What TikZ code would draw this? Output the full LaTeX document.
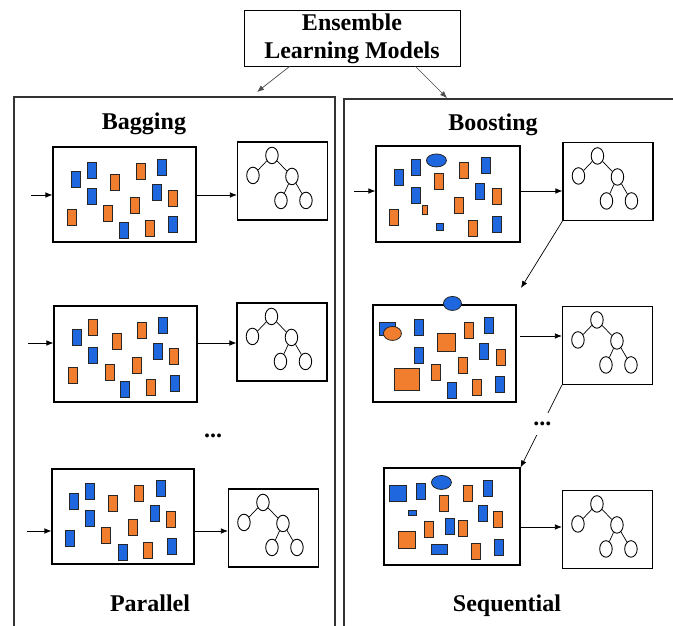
\documentclass[tikz,border=0pt]{standalone}
\usepackage{fontspec}
\setmainfont{Liberation Serif}
\usetikzlibrary{arrows.meta,shapes.geometric,calc}
\definecolor{pcblue}{RGB}{31,103,222}
\definecolor{pcorange}{RGB}{240,126,46}
\tikzset{
  panel/.style={line width=1.1pt, draw=black!80},
  box/.style={draw, line width=1.1pt, inner sep=0pt},
  treebox/.style={box, minimum width=90pt, minimum height=78pt},
  leaf/.style={ellipse, draw, line width=0.9pt, minimum width=12.5pt, minimum height=16.5pt, inner sep=0pt},
  flow/.style={-{Latex[length=7pt,width=5.5pt]}, line width=0.7pt},
  lbl/.style={font=\fontsize{24}{28}\selectfont\bfseries},
  bpc/.style={draw=black!85, line width=0.8pt, fill=pcblue},
  opc/.style={draw=black!85, line width=0.8pt, fill=pcorange},
  dtree/.pic={
    \node[leaf] (r) at (35,14) {};
    \node[leaf] (a) at (16,34) {};
    \node[leaf] (b) at (55,35) {};
    \node[leaf] (c) at (44,59) {};
    \node[leaf] (d) at (69,59) {};
    \draw[line width=0.7pt] (r) -- (a) (r) -- (b) (b) -- (c) (b) -- (d);
  }
}
% 9x16 pieces, centres given relative to the box corner
\newcommand{\pieces}[2]{\foreach \px/\py in {#2} \draw[#1] (\px-4.5,\py-8) rectangle +(9,16);}

\begin{document}
\begin{tikzpicture}[x=1pt,y=-1pt]
\useasboundingbox (0,0) rectangle (673,626);
\clip (0,0) rectangle (673,626);

% title and the two panels
\node[lbl, box, line width=0.9pt, align=center, minimum width=216pt, minimum height=56pt, text depth=3pt] (title) at (352,38) {Ensemble\\Learning Models};
\draw[panel] (14,640) |- (335,97) -- (335,640); % bagging panel
\draw[panel] (344,640) |- (690,99); % boosting panel
\coordinate (bagtop) at (257,92);
\coordinate (bootop) at (447,98);
\draw[flow, draw=black!70] ([xshift=46pt]title.south west) -- (bagtop);
\draw[flow, draw=black!70] ([xshift=-45pt]title.south east) -- (bootop);
\node[lbl] (baglbl) at (144,124) {Bagging};
\node[lbl] (boolbl) at (493,125) {Boosting};
\node[lbl] (parlbl) at (150,603) {Parallel};
\node[lbl] (seqlbl) at (507,606) {Sequential};

% data sets
\node[box, minimum width=143pt, minimum height=95pt] (bag1) at (124.5,194.5) {};
\node[box, minimum width=143pt, minimum height=96pt] (bag2) at (125.5,354) {};
\node[box, minimum width=142pt, minimum height=95pt] (bag3) at (123,516.5) {};
\node[box, minimum width=144pt, minimum height=96pt] (boo1) at (448,194) {};
\node[box, minimum width=143pt, minimum height=97pt] (boo2) at (444.5,353.5) {};
\node[box, minimum width=136pt, minimum height=97pt] (boo3) at (452,516.5) {};

% learners
\node[treebox] (tbag1) at (282.5,181) {};
\node[treebox] (tbag2) at (282,342) {};
\node[treebox] (tbag3) at (273.5,528) {};
\node[treebox] (tboo1) at (608,181.5) {};
\node[treebox] (tboo2) at (607.5,345.5) {};
\node[treebox] (tboo3) at (607.5,529.5) {};
\foreach \t in {tbag1,tbag2,tbag3,tboo1,tboo2,tboo3}
  \pic at (\t.north west) {dtree};

% bagging arrows
\coordinate (bagin1) at (31,195);
\coordinate (bagin2) at (28,343);
\coordinate (bagin3) at (27,531);
\foreach \i in {1,2,3} {
  \draw[flow] (bagin\i) -- (bagin\i -| bag\i.west);
  \draw[flow] (bagin\i -| bag\i.east) -- (bagin\i -| tbag\i.west);
}
\node[lbl] (dots1) at (213,436) {...};

% boosting arrows
\coordinate (booin1) at (354,191);
\coordinate (booout2) at (520,336);
\coordinate (booout3) at (520,527);
\coordinate (boo2top) at (521,288);
\draw[flow] (booin1) -- (booin1 -| boo1.west);
\draw[flow] (booin1 -| boo1.east) -- (booin1 -| tboo1.west);
\draw[flow] (tboo1.south west) -- (boo2top);
\draw[flow] (booout2) -- (booout2 -| tboo2.west);
\draw[flow] (tboo2.south west) -- node[lbl, pos=0.47, fill=white, inner sep=1pt, minimum height=22pt] (dots2) {...} (boo3.north east);
\draw[flow] (booout3) -- (booout3 -| tboo3.west);

% samples, bagging
\begin{scope}[shift={(bag1.north west)}]
\pieces{bpc}{23/33, 39/24, 39/50, 109/21, 104/46, 71/84, 120/78}
\pieces{opc}{62/36, 88/25, 19/71, 55/67, 82/59, 120/52, 97/82}
\end{scope}
\begin{scope}[shift={(bag2.north west)}]
\pieces{bpc}{23/32, 39/50, 109/20, 104/46, 71/84, 121/78}
\pieces{opc}{39/22, 63/36, 88/25, 19/70, 56/67, 83/60, 120/51, 97/82}
\end{scope}
\begin{scope}[shift={(bag3.north west)}]
\pieces{bpc}{22/33, 38/23, 38/50, 18/70, 109/20, 103/45, 71/84, 120/78}
\pieces{opc}{61/35, 87/25, 54/67, 81/59, 119/51, 96/82}
\end{scope}

% samples, boosting (weights grow)
\begin{scope}[shift={(boo1.north west)}]
\pieces{bpc}{23/32, 40/22, 40/50, 110/20, 104/46, 121/79}
\pieces{opc}{63/36, 88/25, 121/51, 18/72, 83/60, 97/83}
\draw[bpc] (60.5,77.5) rectangle +(7,7);
\draw[opc] (46.5,59.5) rectangle +(5,9);
\draw[bpc] (61,15) ellipse [x radius=10pt, y radius=6.5pt];
\end{scope}
\begin{scope}[shift={(boo2.north west)}]
\pieces{bpc}{46/23, 46/51, 116/21, 111/47, 127/80, 79/86}
\pieces{opc}{96/26, 128/53, 90/61, 63/68, 104/83}
\draw[bpc] (7,17.5) rectangle +(16,13);
\draw[opc] (20,29) ellipse [x radius=9pt, y radius=7pt];
\draw[opc] (65,29) rectangle +(18,18);
\draw[opc] (21.5,64) rectangle +(25,22);
\draw[bpc] (80,-1) ellipse [x radius=9pt, y radius=7pt];
\end{scope}
\begin{scope}[shift={(boo3.north west)}]
\pieces{bpc}{37/24, 104/21, 99/46, 66/59, 115/80}
\pieces{opc}{60/36, 84/26, 114/52, 45/62, 79/61, 92/84}
\draw[bpc] (5.5,18) rectangle +(17,16);
\draw[bpc] (58,15) ellipse [x radius=10pt, y radius=7pt];
\draw[bpc] (25,42.5) rectangle +(8,5);
\draw[opc] (14.5,63.5) rectangle +(17,17);
\draw[bpc] (48,77) rectangle +(16,10);
\end{scope}
\end{tikzpicture}
\end{document}
